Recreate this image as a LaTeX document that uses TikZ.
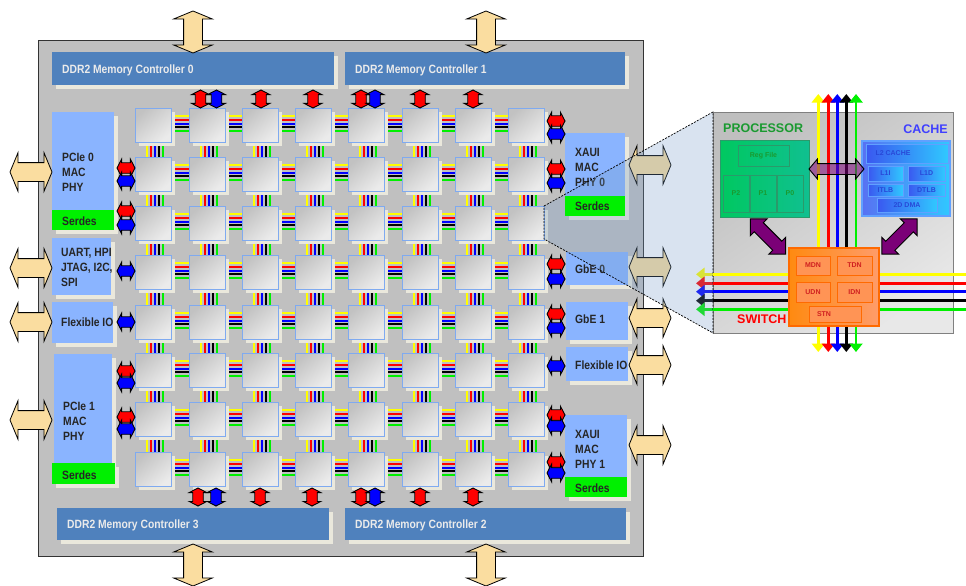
\documentclass[tikz,border=0pt]{standalone}
\usepackage{fontspec}
\setmainfont{Liberation Sans}
\newfontfamily\narfont[FakeStretch=0.86]{Liberation Sans}
\usetikzlibrary{shapes.arrows,arrows.meta,calc,backgrounds}
\definecolor{chipgray}{HTML}{C0C0C0}
\definecolor{shadowbeige}{HTML}{EAE8DC}
\definecolor{ctrlblue}{HTML}{4F81BD}
\definecolor{phyblue}{HTML}{8AB4FF}
\definecolor{serdesgreen}{HTML}{00F000}
\definecolor{bigbeige}{HTML}{FADDA0}
\definecolor{tileline}{HTML}{7FAAF0}
\definecolor{wedgeblue}{RGB}{115,155,200}
\definecolor{purplearrow}{HTML}{7B0077}
\definecolor{busgreen}{HTML}{00F000}
\definecolor{busyellow}{HTML}{FFFF00}
\definecolor{tiledark}{HTML}{C2C2C2}
\definecolor{tilelight}{HTML}{EBEBEB}
\definecolor{procleft}{HTML}{00C860}
\definecolor{procright}{HTML}{10C090}
\definecolor{procline}{HTML}{2A9A6A}
\definecolor{proctext}{HTML}{1A9A30}
\definecolor{cacheleft}{HTML}{3A58F0}
\definecolor{cacheright}{HTML}{30C8FF}
\definecolor{cacheline}{HTML}{60A0FF}
\definecolor{cachetext}{HTML}{2848D8}
\definecolor{swleft}{HTML}{FF8A10}
\definecolor{swright}{HTML}{FF9C6A}
\definecolor{swline}{HTML}{FF6A00}
\definecolor{swinner}{HTML}{FF9455}
\definecolor{swtext}{HTML}{D02020}
\tikzset{
 x=1pt,y=-1pt,
 plainbox/.style={anchor=north west,inner sep=0pt,outer sep=0pt,rectangle},
 lab/.style={anchor=west,inner sep=0pt,align=left,font=\narfont\bfseries\fontsize{12}{15}\selectfont,text=black!85},
 ctrllab/.style={anchor=west,inner sep=0pt,text=white!92!black,font=\narfont\bfseries\fontsize{12}{15}\selectfont},
 tile/.style={anchor=north west,inner sep=0pt,outer sep=0pt,minimum width=36pt,minimum height=34pt,draw=tileline,line width=.9pt,shading=axis,top color=tiledark,bottom color=tilelight,shading angle=40},
 tileshadow/.style={anchor=north west,inner sep=0pt,outer sep=0pt,minimum width=36pt,minimum height=34pt,fill=shadowbeige},
 darrowbase/.style={shape=double arrow,inner xsep=0pt,outer sep=0pt,draw=black},
 bigarrow/.style={darrowbase,line width=.8pt,fill=bigbeige,minimum height=42pt,inner ysep=9pt,double arrow head extend=10pt,double arrow tip angle=135},
 smallarrow/.style={darrowbase,line width=.9pt,minimum height=18pt,inner ysep=4.8pt,double arrow head extend=3.5pt,double arrow tip angle=125},
 linkline/.style={line width=1.9pt},
 busline/.style={line width=2.6pt},
 bushead/.style={-{Triangle[width=13pt,length=8.5pt]}},
 purpleh/.style={darrowbase,line width=.9pt,fill=purplearrow,fill opacity=.55,minimum height=55pt,inner ysep=5pt,double arrow head extend=4.5pt,double arrow tip angle=100},
 purpled/.style={darrowbase,line width=.9pt,fill=purplearrow,minimum height=50pt,inner ysep=6pt,double arrow head extend=5.5pt,double arrow tip angle=90},
 dashedge/.style={black,dashed,dash pattern=on 2pt off 1.3pt,line width=.7pt},
 innerg/.style={plainbox,draw=procline,line width=1pt,font=\bfseries\fontsize{7}{8}\selectfont,text=proctext},
 innerc/.style={plainbox,shading=axis,left color=cacheleft,right color=cacheright,text=cachetext,font=\bfseries\fontsize{7}{8}\selectfont,draw=cacheline,line width=.8pt},
 innero/.style={plainbox,fill=swinner,draw=swline,line width=1pt,text=swtext,font=\bfseries\fontsize{7}{8}\selectfont},
}
\newcommand{\myplain}[6]{\node[plainbox,minimum width={(#4-#2)*1pt},minimum height={(#5-#3)*1pt},#6] (#1) at (#2,#3) {};}
\newcommand{\myshad}[6]{\node[plainbox,minimum width={(#4-#2)*1pt},minimum height={(#5-#3)*1pt},fill=shadowbeige] (#1s) at (#2+4,#3+4) {};
 \node[plainbox,minimum width={(#4-#2)*1pt},minimum height={(#5-#3)*1pt},#6] (#1) at (#2,#3) {};}
\newcommand{\mytext}[7]{\node[plainbox,minimum width={(#4-#2)*1pt},minimum height={(#5-#3)*1pt},align=center,#6] (#1) at (#2,#3) {#7};}
\begin{document}
\begin{tikzpicture}
\useasboundingbox (0,0) rectangle (966,586);
\fill[white] (0,0) rectangle (966,586);
% chip
\node[plainbox,minimum width=605pt,minimum height=516pt,fill=chipgray,draw=black!80,line width=.9pt] (chip) at (38,40) {};
% controllers
\myshad{mc0}{52}{52}{334}{85}{fill=ctrlblue}
\myshad{mc1}{345}{52}{625}{85}{fill=ctrlblue}
\myshad{mc3}{57}{508}{329}{540}{fill=ctrlblue}
\myshad{mc2}{345}{508}{626}{540}{fill=ctrlblue}
\node[ctrllab] (lmc0) at (62,70) {DDR2 Memory Controller 0};
\node[ctrllab] (lmc1) at (355,70) {DDR2 Memory Controller 1};
\node[ctrllab] (lmc3) at (67,525) {DDR2 Memory Controller 3};
\node[ctrllab] (lmc2) at (355,525) {DDR2 Memory Controller 2};
% left blocks
\myshad{pcie0}{52}{112}{114}{230}{fill=phyblue}
\myplain{sd0}{52}{210}{114}{230}{fill=serdesgreen}
\myshad{uart}{52}{238}{111}{295}{fill=phyblue}
\myshad{flexl}{52}{302}{113}{343}{fill=phyblue}
\myshad{pcie1}{54}{354}{112}{484}{fill=phyblue}
\myshad{sd1}{52}{463}{115}{484}{fill=serdesgreen}
\node[lab] (lp0) at (62,172) {PCIe 0\\MAC\\PHY};
\node[lab] (ls0) at (62,221) {Serdes};
\node[lab] (lu) at (61,267) {UART, HPI\\JTAG, I2C,\\SPI};
\node[lab] (lf) at (61,322) {Flexible IO};
\node[lab] (lp1) at (63,421) {PCIe 1\\MAC\\PHY};
\node[lab] (ls1) at (62,475) {Serdes};
% right blocks
\myshad{xaui0}{565}{133}{625}{216}{fill=phyblue}
\myshad{gbe0}{566}{252}{628}{285}{fill=phyblue}
\myshad{gbe1}{566}{302}{628}{340}{fill=phyblue}
\myshad{flexr}{566}{347}{628}{381}{fill=phyblue}
\myshad{xaui1}{565}{415}{627}{497}{fill=phyblue}
\myplain{sd3}{565}{477}{627}{497}{fill=serdesgreen}
\node[lab] (lx0) at (575,167) {XAUI\\MAC\\PHY 0};
\node[lab] (lg0) at (575,269) {GbE 0};
\node[lab] (lg1) at (575,319) {GbE 1};
\node[lab] (lfr) at (575,365) {Flexible IO};
\node[lab] (lx1) at (575,449) {XAUI\\MAC\\PHY 1};
\node[lab] (ls3) at (575,488) {Serdes};
% tiles
\foreach \yy [count=\r] in {108,157,206,255,305,353,402,452}{
 \foreach \xx [count=\c] in {135,189,242,295,348,402,455,508}{
  \node[tileshadow] (s-\r-\c) at (\xx+4,\yy+4) {};
 }}
\foreach \yy [count=\r] in {108,157,206,255,305,353,402,452}{
 \foreach \xx [count=\c] in {135,189,242,295,348,402,455,508}{
  \node[tile] (t-\r-\c) at (\xx,\yy) {};
 }}
% mesh links
\foreach \r in {1,...,8}{
 \foreach \c [remember=\c as \p (initially 1)] in {2,...,8}{
  \foreach \dy/\col in {9/busyellow,5/red,1/blue,-2.4/black,-5.8/busgreen}{
   \draw[linkline,\col] ([xshift=4pt,yshift=\dy pt]t-\r-\p.east) -- ([yshift=\dy pt]t-\r-\c.west);
  }}}
\foreach \c in {1,...,8}{
 \foreach \r [remember=\r as \p (initially 1)] in {2,...,8}{
  \foreach \dx/\col in {-6/busyellow,-2.2/red,1.7/blue,5.7/black,9.7/busgreen}{
   \draw[linkline,\col] ([xshift=\dx pt,yshift=-4pt]t-\p-\c.south) -- ([xshift=\dx pt]t-\r-\c.north);
  }}}
% small vertical arrows, top and bottom
\foreach \xx/\col [count=\i] in {200.5/red,216.5/blue,261/red,313/red,361/red,375/blue,420/red,473/red}{
 \node[smallarrow,fill=\col,rotate=90] (at\i) at (\xx,99) {};
}
\foreach \xx/\col [count=\i] in {198/red,216/blue,260/red,312/red,361/red,375/blue,420/red,473/red}{
 \node[smallarrow,fill=\col,rotate=90] (ab\i) at (\xx,497) {};
}
% small horizontal arrows, left and right
\foreach \yy/\col [count=\i] in {168/red,181/blue,211/red,225/blue,271/blue,322/blue,371/red,383/blue,417/red,429/blue}{
 \node[smallarrow,fill=\col] (al\i) at (126,\yy) {};
}
\foreach \yy/\col [count=\i] in {121/red,134/blue,169/red,183/blue,264/red,279/blue,314/red,328/blue,366/blue,415/red,426/blue,462/red,473/blue}{
 \node[smallarrow,fill=\col] (ar\i) at (556,\yy) {};
}
% big arrows
\node[bigarrow,rotate=90] (bt0) at (193,32) {};
\node[bigarrow,rotate=90] (bt1) at (486,32) {};
\node[bigarrow,rotate=90] (bb3) at (193,565) {};
\node[bigarrow,rotate=90] (bb2) at (486,565) {};
\foreach \yy [count=\i] in {172,268,322,420}{
 \node[bigarrow] (bl\i) at (31,\yy) {};
}
\foreach \yy [count=\i] in {165,267,318,365,445}{
 \node[bigarrow] (br\i) at (650,\yy) {};
}
% left ends of the horizontal buses, seen through the wedge
\coordinate (wa) at (544,206);
\coordinate (wb) at (713,112);
\coordinate (wc) at (713,333);
\coordinate (wd) at (544,239);
\foreach \yy/\col [count=\i] in {274.3/busyellow,283.3/red,291.7/blue,300.7/black,309.3/busgreen}{
 \coordinate (hl\i) at (696,\yy);
 \coordinate (hm\i) at (713,\yy);
 \coordinate (hr\i) at (975,\yy);
 \draw[busline,\col,bushead] (hm\i) -- (hl\i);
}
% wedge
\fill[wedgeblue,fill opacity=.27] (wa) -- (wb) -- (wc) -- (wd) -- cycle;
\myplain{sd2}{565}{196}{625}{216}{fill=serdesgreen}
\node[lab] (ls2) at (575,206) {Serdes};
% panel
\node[plainbox,minimum width=240pt,minimum height=221pt,draw=black!50,line width=.9pt,shading=axis,top color=gray!50!white,bottom color=gray!18!white,shading angle=35] (panel) at (713,112) {};
\draw[dashedge] (wa) -- (wb) -- (wc) -- (wd) -- cycle;
% buses in the panel
\begin{scope}
\clip (0,0) rectangle (966,586);
\foreach \i/\col in {1/busyellow,2/red,3/blue,4/black,5/busgreen}{
 \draw[busline,\col,bushead] (hm\i) -- (hr\i);
}
\end{scope}
\foreach \xx/\col [count=\i] in {818.3/busyellow,828.3/red,837.3/blue,846.3/black,856/busgreen}{
 \coordinate (vt\i) at (\xx,94);
 \coordinate (vb\i) at (\xx,352);
 \draw[busline,\col,bushead] (\xx,223) -- (vt\i);
 \draw[busline,\col,bushead] (\xx,223) -- (vb\i);
}
% processor
\node[plainbox,minimum width=89pt,minimum height=77pt,shading=axis,left color=procleft,right color=procright,draw=procline,line width=1pt] (proc) at (720,140) {};
\mytext{reg}{738}{145}{789}{166}{innerg}{Reg File}
\mytext{p2}{723}{175}{749}{212}{innerg}{P2}
\mytext{p1}{750}{175}{776}{212}{innerg}{P1}
\mytext{p0}{777}{175}{803}{212}{innerg}{P0}
\node[anchor=west,inner sep=0pt,text=proctext,font=\bfseries\fontsize{12.5}{14}\selectfont] (lproc) at (723,128) {PROCESSOR};
% cache
\node[plainbox,minimum width=88pt,minimum height=75pt,shading=axis,left color=cacheleft!85!white,right color=cacheright,draw=cacheline,line width=1.2pt] (cache) at (862,141) {};
\mytext{l2}{866}{144}{948}{163}{innerc}{L2 CACHE\hspace*{28pt}}
\mytext{l1i}{868}{166}{903}{181}{innerc}{L1I}
\mytext{l1d}{908}{166}{945}{181}{innerc}{L1D}
\mytext{itlb}{868}{184}{903}{196}{innerc}{ITLB}
\mytext{dtlb}{908}{184}{945}{196}{innerc}{DTLB}
\mytext{dma}{877}{198}{937}{212}{innerc}{2D DMA}
\node[anchor=east,inner sep=0pt,text=blue!75!white,font=\bfseries\fontsize{12.5}{14}\selectfont] (lcache) at (948,129) {CACHE};
% purple arrows
\node[purpleh] (pc) at (836.5,169) {};
\node[purpled,rotate=-45] (ps) at (768,236.5) {};
\node[purpled,rotate=45] (cs) at (899.5,236.5) {};
% switch
\node[plainbox,minimum width=90pt,minimum height=78pt,shading=axis,left color=swleft,right color=swright,draw=swline,line width=1.2pt] (switch) at (789,248) {};
\mytext{mdn}{796}{256}{830}{275}{innero}{MDN}
\mytext{tdn}{837}{256}{872}{275}{innero}{TDN}
\mytext{udn}{796}{282}{830}{302}{innero}{UDN}
\mytext{idn}{837}{282}{872}{302}{innero}{IDN}
\mytext{stn}{809}{306}{861}{322}{innero}{STN\hspace*{22pt}}
\node[anchor=west,inner sep=0pt,text=red,font=\bfseries\fontsize{12.5}{14}\selectfont] (lsw) at (737,319) {SWITCH};
\end{tikzpicture}
\end{document}
